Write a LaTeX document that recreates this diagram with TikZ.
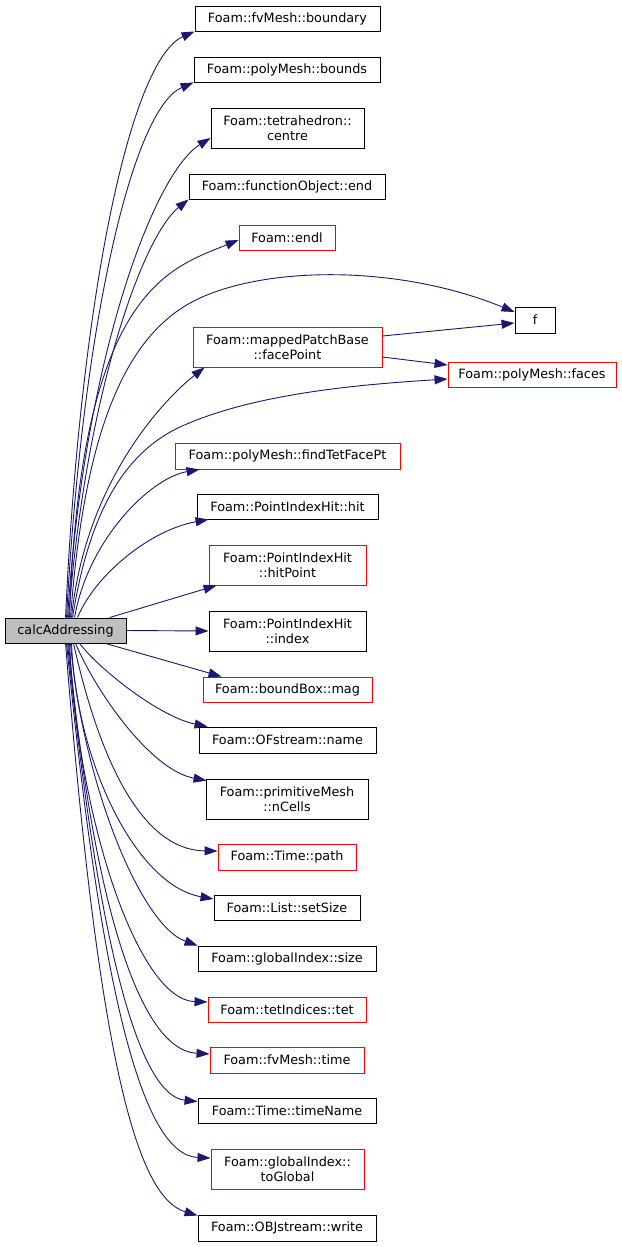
\documentclass[tikz,border=0pt]{standalone}
\usepackage{fontspec}
\setmainfont{DejaVu Sans}
\usetikzlibrary{arrows.meta}
\definecolor{edgeblue}{HTML}{191970}
\definecolor{nodered}{HTML}{FF0000}
\definecolor{calcgray}{HTML}{BFBFBF}
\tikzset{
  fn/.style={draw=black, line width=0.9pt, inner sep=0pt, align=center,
    font=\fontsize{12.8}{15.3}\selectfont, text=black},
  fnred/.style={fn, draw=nodered},
  call/.style={draw=edgeblue, line width=0.9pt, -{Triangle[length=13pt,width=9pt]}}
}
\begin{document}
\begin{tikzpicture}[x=1pt,y=-1pt]
\fill[white] (0,0) rectangle (621,1247);
\useasboundingbox (0,0) rectangle (621,1247);

\node[fn, fill=calcgray, minimum width=121pt, minimum height=25pt] (ncalc) at (65.5,630.5) {calcAddressing};

\node[fn, minimum width=185pt, minimum height=25pt] (nboundary) at (287.5,18.5) {Foam::fvMesh::boundary};
\node[fn, minimum width=186pt, minimum height=25pt] (nbounds) at (287,69.5) {Foam::polyMesh::bounds};
\node[fn, minimum width=153pt, minimum height=40pt] (ncentre) at (287.5,128) {Foam::tetrahedron::\\centre};
\node[fn, minimum width=196pt, minimum height=25pt] (nend) at (287,186.5) {Foam::functionObject::end};
\node[fnred, minimum width=96pt, minimum height=25pt] (nendl) at (287,237.5) {Foam::endl};
\node[fn, minimum width=40pt, minimum height=26pt] (nf) at (535,320) {f};
\node[fnred, minimum width=189pt, minimum height=40pt] (nfacePoint) at (287.5,347) {Foam::mappedPatchBase\\::facePoint};
\node[fnred, minimum width=168pt, minimum height=25pt] (nfaces) at (532,374.5) {Foam::polyMesh::faces};
\node[fnred, minimum width=225pt, minimum height=26pt] (nfindTet) at (287.5,456) {Foam::polyMesh::findTetFacePt};
\node[fn, minimum width=181pt, minimum height=25pt] (nhit) at (287.5,506.5) {Foam::PointIndexHit::hit};
\node[fnred, minimum width=157pt, minimum height=40pt] (nhitPoint) at (287.5,565) {Foam::PointIndexHit\\::hitPoint};
\node[fn, minimum width=157pt, minimum height=40pt] (nindex) at (287.5,631) {Foam::PointIndexHit\\::index};
\node[fnred, minimum width=169pt, minimum height=25pt] (nmag) at (287.5,689.5) {Foam::boundBox::mag};
\node[fn, minimum width=177pt, minimum height=26pt] (nname) at (287.5,740) {Foam::OFstream::name};
\node[fn, minimum width=162pt, minimum height=40pt] (nnCells) at (287,799) {Foam::primitiveMesh\\::nCells};
\node[fnred, minimum width=138pt, minimum height=26pt] (npath) at (287,857) {Foam::Time::path};
\node[fn, minimum width=146pt, minimum height=25pt] (nsetSize) at (287,907.5) {Foam::List::setSize};
\node[fn, minimum width=178pt, minimum height=25pt] (nsize) at (287,958.5) {Foam::globalIndex::size};
\node[fnred, minimum width=158pt, minimum height=25pt] (ntet) at (287,1009.5) {Foam::tetIndices::tet};
\node[fnred, minimum width=154pt, minimum height=26pt] (ntime) at (287,1060) {Foam::fvMesh::time};
\node[fn, minimum width=178pt, minimum height=25pt] (ntimeName) at (287,1110.5) {Foam::Time::timeName};
\node[fnred, minimum width=153pt, minimum height=40pt] (ntoGlobal) at (287.5,1169) {Foam::globalIndex::\\toGlobal};
\node[fn, minimum width=178pt, minimum height=26pt] (nwrite) at (287,1228) {Foam::OBJstream::write};

% upper edges
\draw[call] ([xshift=61pt]ncalc.north west) .. controls (80,300) and (130,60) .. (nboundary.south west);
\draw[call] ([xshift=62pt]ncalc.north west) .. controls (82,328) and (132,109) .. (nbounds.south west);
\draw[call] ([xshift=63pt]ncalc.north west) .. controls (84,358) and (154,173) .. ([yshift=-10pt]ncentre.west);
\draw[call] ([xshift=64pt]ncalc.north west) .. controls (86,392) and (143,236) .. (nend.south west);
\draw[call] ([xshift=65pt]ncalc.north west) .. controls (80,290) and (170,268) .. ([yshift=-2.5pt]nendl.west);
\draw[call] ([xshift=66pt]ncalc.north west) .. controls (85,420) and (130,330) .. (200,298)
   .. controls (270,266) and (400,265) .. ([yshift=8pt]nf.west);
\draw[call] ([xshift=67pt]ncalc.north west) .. controls (85,483) and (163,400) .. ([xshift=12pt]nfacePoint.south west);
\draw[call] ([xshift=68pt]ncalc.north west) .. controls (88,520) and (120,455) .. (180,427)
   .. controls (250,395) and (350,385) .. ([yshift=-4.5pt]nfaces.west);
\draw[call] ([xshift=70pt]ncalc.north west) .. controls (88,540) and (150,478) .. ([xshift=25pt]nfindTet.south west);
\draw[call] ([xshift=73pt]ncalc.north west) .. controls (95,575) and (150,530) .. ([xshift=12pt]nhit.south west);
\draw[call] ([xshift=105pt]ncalc.north west) -- ([xshift=8pt]nhitPoint.south west);
\draw[call] (ncalc.east) -- (nindex.west);
% lower edges
\draw[call] ([xshift=101pt]ncalc.south west) -- ([xshift=19pt]nmag.north west);
\draw[call] ([xshift=75pt]ncalc.south west) .. controls (100,670) and (160,717) .. ([xshift=9pt]nname.north west);
\draw[call] ([xshift=71pt]ncalc.south west) .. controls (95,690) and (150,770) .. ([xshift=1pt,yshift=-2pt]nnCells.north west);
\draw[call] ([xshift=69pt]ncalc.south west) .. controls (95,740) and (135,850) .. ([yshift=6pt]npath.west);
\draw[call] ([xshift=67pt]ncalc.south west) .. controls (76,760) and (135,885) .. ([yshift=8.5pt]nsetSize.west);
\draw[call] ([xshift=66pt]ncalc.south west) .. controls (82,780) and (140,925) .. (nsize.north west);
\draw[call] ([xshift=65pt]ncalc.south west) .. controls (78,820) and (138,1000) .. ([yshift=7.5pt]ntet.west);
\draw[call] ([xshift=64pt]ncalc.south west) .. controls (90,880) and (135,1050) .. ([yshift=6pt]ntime.west);
\draw[call] ([xshift=63pt]ncalc.south west) .. controls (95,920) and (135,1095) .. ([yshift=-4pt]ntimeName.north west);
\draw[call] ([xshift=62pt]ncalc.south west) .. controls (100,980) and (140,1155) .. ([yshift=11pt]ntoGlobal.west);
\draw[call] ([xshift=61pt]ncalc.south west) .. controls (100,1080) and (140,1198) .. ([yshift=-1pt]nwrite.north west);
% facePoint edges
\draw[call] ([yshift=11pt]nfacePoint.east) -- ([yshift=-3pt]nf.west);
\draw[call] ([yshift=-10pt]nfacePoint.east) -- ([yshift=9.5pt]nfaces.west);
\end{tikzpicture}
\end{document}
